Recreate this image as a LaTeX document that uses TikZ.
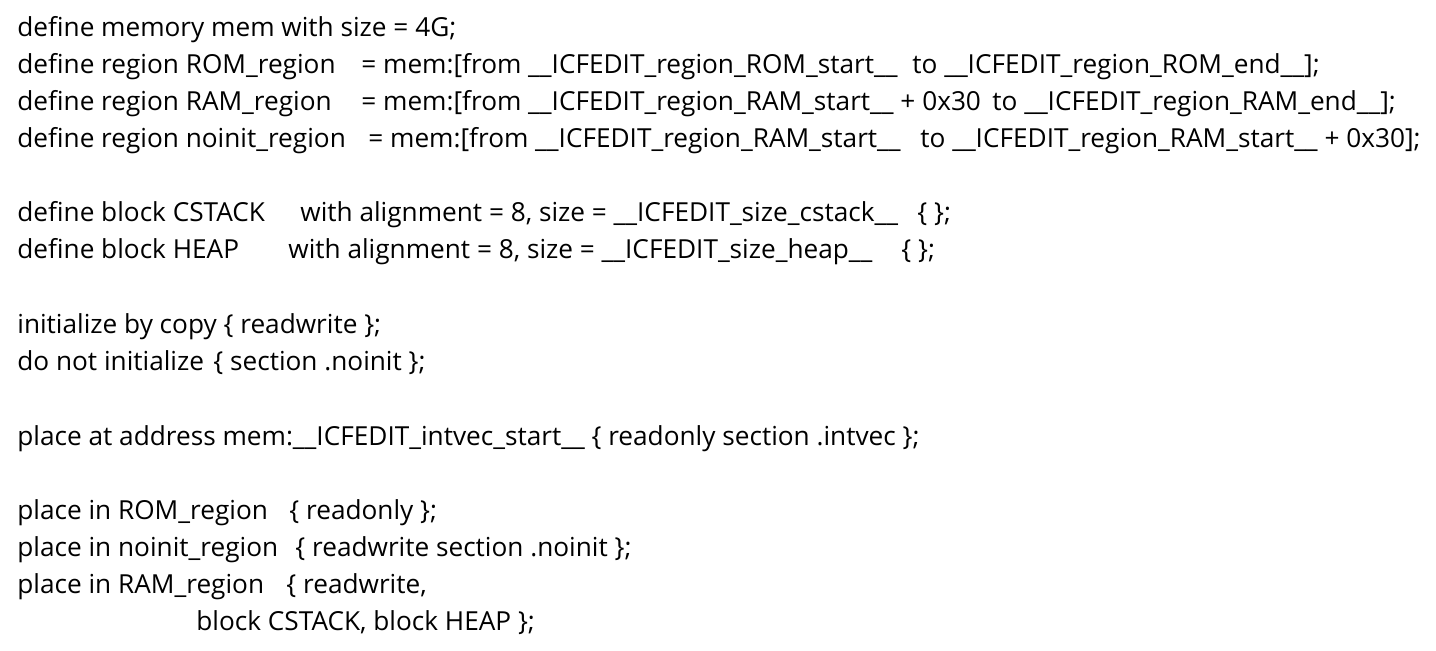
\documentclass[tikz,border=0pt]{standalone}
\usepackage{fontspec}
\setmainfont{Open Sans}
\tikzset{
  code/.style={anchor=base west, inner sep=0pt, font=\fontsize{13.1pt}{16pt}\selectfont, text=black},
}
\begin{document}
\begin{tikzpicture}[x=0.5pt, y=-0.5pt]
\useasboundingbox[fill=white] (0,0) rectangle (1436,650);

 % memory and regions
\node[code] (mem) at (17,36) {define memory mem with size = 4G;};
\node[code] (romA) at (17,73) {define region ROM\_region};
\node[code] (romB) at (361,73) {= mem:[from \_\_ICFEDIT\_region\_ROM\_start\_\_};
\node[code] (romC) at (912,73) {to \_\_ICFEDIT\_region\_ROM\_end\_\_];};
\node[code] (ramA) at (17,110) {define region RAM\_region};
\node[code] (ramB) at (361,110) {= mem:[from \_\_ICFEDIT\_region\_RAM\_start\_\_ + 0x30};
\node[code] (ramC) at (992,110) {to \_\_ICFEDIT\_region\_RAM\_end\_\_];};
\node[code] (noA) at (17,147) {define region noinit\_region};
\node[code] (noB) at (368,147) {= mem:[from \_\_ICFEDIT\_region\_RAM\_start\_\_};
\node[code] (noC) at (920,147) {to \_\_ICFEDIT\_region\_RAM\_start\_\_ + 0x30];};

 % blocks
\node[code] (csA) at (17,221) {define block CSTACK};
\node[code] (csB) at (300,221) {with alignment = 8, size = \_\_ICFEDIT\_size\_cstack\_\_};
\node[code] (csC) at (917,221) {\{ \};};
\node[code] (hpA) at (17,258) {define block HEAP};
\node[code] (hpB) at (288,258) {with alignment = 8, size = \_\_ICFEDIT\_size\_heap\_\_};
\node[code] (hpC) at (901,258) {\{ \};};

 % init
\node[code] (init) at (17,333) {initialize by copy \{ readwrite \};};
\node[code] (noinitA) at (17,370) {do not initialize};
\node[code] (noinitB) at (213,370) {\{ section .noinit \};};

 % placement
\node[code] (vec) at (17,445) {place at address mem:\_\_ICFEDIT\_intvec\_start\_\_ \{ readonly section .intvec \};};
\node[code] (pRomA) at (17,519) {place in ROM\_region};
\node[code] (pRomB) at (289,519) {\{ readonly \};};
\node[code] (pNoA) at (17,556) {place in noinit\_region};
\node[code] (pNoB) at (295,556) {\{ readwrite section .noinit \};};
\node[code] (pRamA) at (17,593) {place in RAM\_region};
\node[code] (pRamB) at (286,593) {\{ readwrite,};
\node[code] (pRamC) at (196,630) {block CSTACK, block HEAP \};};
\end{tikzpicture}
\end{document}
